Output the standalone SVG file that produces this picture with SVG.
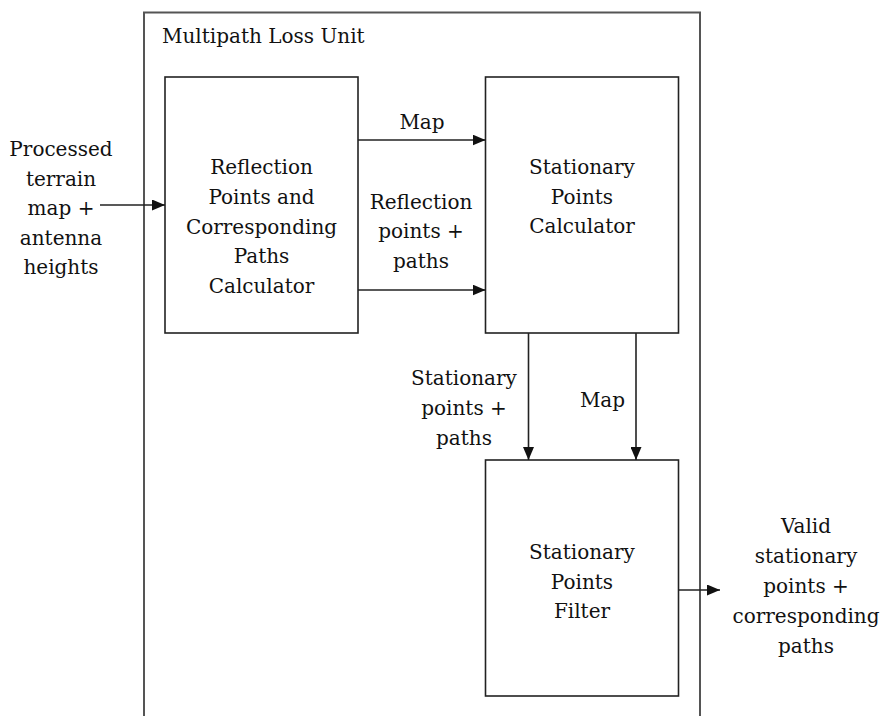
<svg xmlns="http://www.w3.org/2000/svg" width="883" height="716" viewBox="0 0 883 716">
  <style>
    .unit { fill: none; stroke: #555; stroke-width: 2; }
    .box { fill: #fff; stroke: #222; stroke-width: 1.6; }
    .wire { fill: none; stroke: #222; stroke-width: 1.6; }
    .t { font-family: "DejaVu Serif", "Liberation Serif", serif; font-size: 20px; fill: #111; }
    .c { text-anchor: middle; }
  </style>
  <defs>
    <marker id="arrow" viewBox="0 0 13 11" refX="13" refY="5.5" markerWidth="13" markerHeight="11" markerUnits="userSpaceOnUse" orient="auto">
      <path d="M0,0 L13,5.5 L0,11 Z" fill="#111"/>
    </marker>
  </defs>
  <rect width="883" height="716" fill="#fff"/>

  <!-- enclosing unit, open at the bottom edge -->
  <g id="multipath-loss-unit">
    <path class="unit" d="M144,720 V12.5 H700 V720"/>
    <text class="t" x="162" y="43">Multipath Loss Unit</text>
  </g>

  <g id="reflection-calculator" class="t c">
    <rect class="box" x="165" y="77" width="193" height="256"/>
    <text x="261.5" y="174">Reflection</text>
    <text x="261.5" y="203.8">Points and</text>
    <text x="261.5" y="233.5">Corresponding</text>
    <text x="261.5" y="263.3">Paths</text>
    <text x="261.5" y="293">Calculator</text>
  </g>

  <g id="stationary-calculator" class="t c">
    <rect class="box" x="485.5" y="77" width="193" height="256"/>
    <text x="582" y="174">Stationary</text>
    <text x="582" y="203.5">Points</text>
    <text x="582" y="233">Calculator</text>
  </g>

  <g id="stationary-filter" class="t c">
    <rect class="box" x="485.5" y="460" width="193" height="236"/>
    <text x="582" y="559.3">Stationary</text>
    <text x="582" y="588.5">Points</text>
    <text x="582" y="618.3">Filter</text>
  </g>

  <g id="connectors">
    <line class="wire" x1="100" y1="205" x2="165" y2="205" marker-end="url(#arrow)"/>
    <line class="wire" x1="358" y1="140" x2="485.5" y2="140" marker-end="url(#arrow)"/>
    <line class="wire" x1="358" y1="290" x2="485.5" y2="290" marker-end="url(#arrow)"/>
    <line class="wire" x1="528.5" y1="333" x2="528.5" y2="460" marker-end="url(#arrow)"/>
    <line class="wire" x1="636" y1="333" x2="636" y2="460" marker-end="url(#arrow)"/>
    <line class="wire" x1="678.5" y1="590" x2="720" y2="590" marker-end="url(#arrow)"/>
  </g>

  <g id="labels" class="t c">
    <g id="input-label">
      <text x="61" y="156">Processed</text>
      <text x="61" y="185.5">terrain</text>
      <text x="61" y="215">map +</text>
      <text x="61" y="244.5">antenna</text>
      <text x="61" y="274">heights</text>
    </g>
    <text x="422" y="129">Map</text>
    <g id="reflection-label">
      <text x="421" y="208.5">Reflection</text>
      <text x="421" y="238">points +</text>
      <text x="421" y="268">paths</text>
    </g>
    <g id="stationary-label">
      <text x="464" y="385">Stationary</text>
      <text x="464" y="415">points +</text>
      <text x="464" y="445">paths</text>
    </g>
    <text x="602.5" y="406.7">Map</text>
    <g id="output-label">
      <text x="806" y="533.3">Valid</text>
      <text x="806" y="563.3">stationary</text>
      <text x="806" y="593.3">points +</text>
      <text x="806" y="623.3">corresponding</text>
      <text x="806" y="653.3">paths</text>
    </g>
  </g>
</svg>
